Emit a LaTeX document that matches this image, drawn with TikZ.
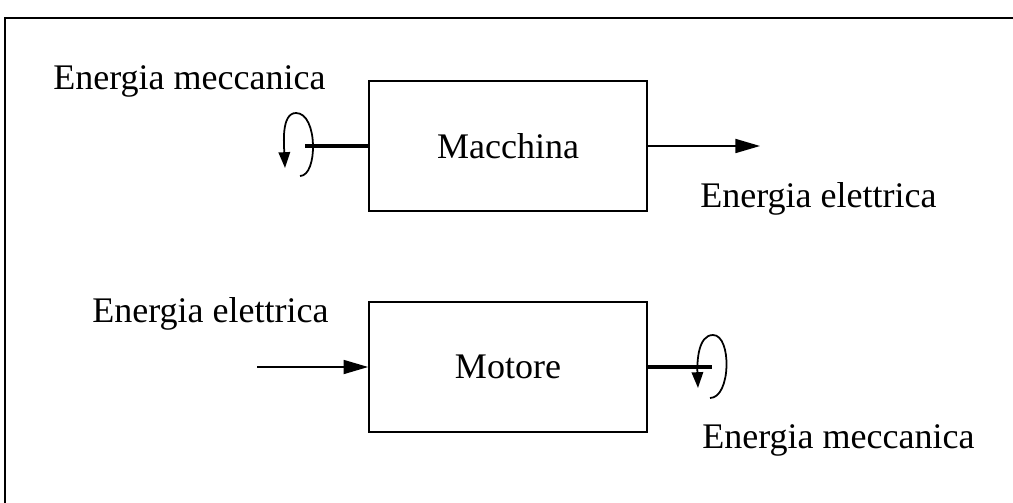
\documentclass[tikz,border=0pt]{standalone}
\usepackage{fontspec}
\setmainfont{Liberation Serif}
\usetikzlibrary{arrows.meta,positioning}

\begin{document}
\begin{tikzpicture}[x=0.02cm,y=-0.02cm,
    blockbox/.style={draw,line width=1pt,minimum width=5.56cm,minimum height=2.6cm,
        inner sep=0pt,font=\fontsize{20.5}{24}\selectfont},
    energytext/.style={inner sep=0pt,anchor=base west,font=\fontsize{20.5}{24}\selectfont},
    flow/.style={line width=0.9pt,-{Triangle[length=14pt,width=8pt]}},
    shaft/.style={line width=2.5pt},
    spin/.style={line width=1pt,-{Triangle[length=9pt,width=6.5pt]}}
]

\useasboundingbox (0,0) rectangle (1013,503);

% Frame
\draw[line width=1.5pt] (5,503) -- (5,18) -- (1013,18);

% Upper block
\node[blockbox] (macchina) at (508,146) {Macchina};
\node[energytext] (meccIn) at (53,90) {Energia meccanica};
\node[energytext] (elettOut) at (700,208) {Energia elettrica};

% Shaft and rotation on the left
\coordinate (shaftL) at (305,146);
\draw[shaft] (macchina.west) -- (shaftL);
\draw[spin] (300,176) .. controls (318,176) and (318,113) .. (296,113)
    .. controls (281,113) and (284,145) .. (285,168);

% Electrical output
\coordinate (outE) at (760,146);
\draw[flow] (macchina.east) -- (outE);

% Lower block
\node[blockbox] (motore) at (508,367) {Motore};
\node[energytext] (elettIn) at (92,322) {Energia elettrica};
\node[energytext] (meccOut) at (702,448) {Energia meccanica};

% Electrical input
\coordinate (inE) at (257,367);
\draw[flow] (inE) -- (motore.west);

% Shaft and rotation on the right
\coordinate (shaftR) at (712,367);
\draw[shaft] (motore.east) -- (shaftR);
\draw[spin] (710,398) .. controls (731,398) and (732,335) .. (713,335)
    .. controls (698,335) and (697,362) .. (698,388);

\end{tikzpicture}
\end{document}
